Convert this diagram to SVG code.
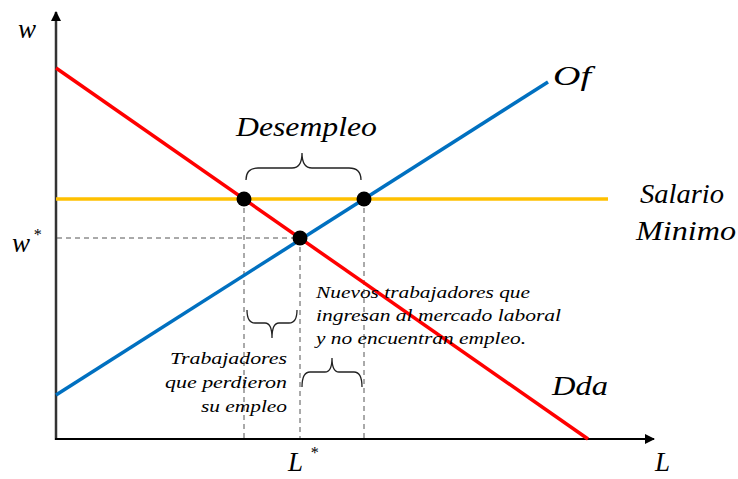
<svg xmlns="http://www.w3.org/2000/svg" width="738" height="479" viewBox="0 0 738 479">
<defs>
<marker id="arr" markerWidth="10" markerHeight="10" refX="9" refY="5" orient="auto" markerUnits="userSpaceOnUse" viewBox="0 0 10 10">
<path d="M0,0 L10,5 L0,10 z" fill="#000"/>
</marker>
<style>
.t{font-family:"Liberation Serif","DejaVu Serif",serif;font-style:italic;fill:#000}
.big{font-size:27px}
.sm{font-size:16px}
.dash{stroke:#555;stroke-width:1;stroke-dasharray:5,4;fill:none}
.br{stroke:#222;stroke-width:1.3;fill:none}
.dot{fill:#000}
</style>
</defs>
<rect width="738" height="479" fill="#fff"/>
<g id="connectors">
<line x1="56" y1="440" x2="56" y2="12" stroke="#333" stroke-width="2.5" marker-end="url(#arr)"/>
<line x1="55" y1="439" x2="654" y2="439" stroke="#000" stroke-width="2" marker-end="url(#arr)"/>
<line class="dash" x1="57" y1="238" x2="300" y2="238"/>
<line class="dash" x1="244" y1="199" x2="244" y2="438"/>
<line class="dash" x1="300" y1="238" x2="300" y2="438"/>
<line class="dash" x1="364" y1="199" x2="364" y2="438"/>
<line x1="56" y1="199" x2="608" y2="199" stroke="#FFC000" stroke-width="3.5"/>
<line x1="56" y1="68" x2="588" y2="439" stroke="#FF0000" stroke-width="3.5"/>
<line x1="56" y1="395" x2="548" y2="82" stroke="#0070C0" stroke-width="3.5"/>
</g>
<g id="braces">
<path class="br" d="M246,180 Q246,168 258,168 L292,168 Q302,168 302,153 Q302,168 312,168 L349,168 Q361,168 361,180"/>
<path class="br" d="M247,310 Q247,323 255,323 L265,323 Q272,323 272,338 Q272,323 279,323 L289,323 Q297,323 297,310"/>
<path class="br" d="M302,387 Q302,372 310,372 L325,372 Q332,372 332,358 Q332,372 339,372 L354,372 Q362,372 362,387"/>
</g>
<g id="points">
<circle class="dot" cx="244" cy="199" r="7.5"/>
<circle class="dot" cx="364" cy="199" r="7.5"/>
<circle class="dot" cx="300" cy="238" r="7.5"/>
</g>
<g id="labels">
<text class="t big" x="18" y="38">w</text>
<text class="t big" x="12" y="252">w</text>
<text class="t" x="33" y="240" font-size="16">*</text>
<text class="t big" x="553" y="85" textLength="38" lengthAdjust="spacingAndGlyphs">Of</text>
<text class="t big" x="236" y="136" textLength="141" lengthAdjust="spacingAndGlyphs">Desempleo</text>
<text class="t big" x="640" y="203" textLength="84" lengthAdjust="spacingAndGlyphs">Salario</text>
<text class="t big" x="636" y="240" textLength="100" lengthAdjust="spacingAndGlyphs">Minimo</text>
<text class="t big" x="552" y="395" textLength="56" lengthAdjust="spacingAndGlyphs">Dda</text>
<text class="t big" x="288" y="471">L</text>
<text class="t" x="310" y="458" font-size="16">*</text>
<text class="t big" x="655" y="471">L</text>
<text class="t sm" x="316" y="298" textLength="214" lengthAdjust="spacingAndGlyphs">Nuevos trabajadores que</text>
<text class="t sm" x="316" y="321" textLength="245" lengthAdjust="spacingAndGlyphs">ingresan al mercado laboral</text>
<text class="t sm" x="316" y="344" textLength="210" lengthAdjust="spacingAndGlyphs">y no encuentran empleo.</text>
<text class="t sm" x="170" y="364" textLength="117" lengthAdjust="spacingAndGlyphs">Trabajadores</text>
<text class="t sm" x="165" y="388" textLength="122" lengthAdjust="spacingAndGlyphs">que perdieron</text>
<text class="t sm" x="201" y="412" textLength="86" lengthAdjust="spacingAndGlyphs">su empleo</text>
</g>
</svg>
